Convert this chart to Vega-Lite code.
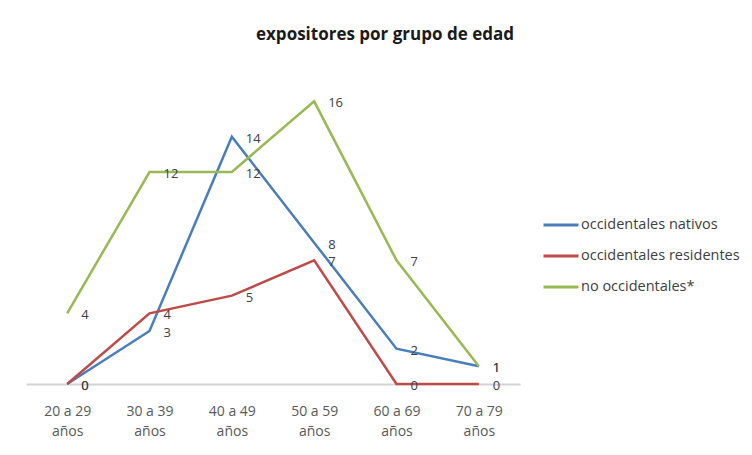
{
  "$schema": "https://vega.github.io/schema/vega-lite/v6.json",
  "width": 494,
  "height": 318,
  "autosize": {"type": "none"},
  "padding": {"left": 26, "top": 66, "right": 232, "bottom": 71},
  "background": "white",
  "title": {
    "text": "expositores por grupo de edad",
    "anchor": "middle",
    "frame": "group",
    "dx": 112,
    "offset": 22,
    "font": "Open Sans",
    "fontSize": 17,
    "fontWeight": "bold",
    "color": "#1a1a1a"
  },
  "config": {
    "view": {"stroke": null},
    "font": "Open Sans"
  },
  "data": {
    "values": [
      {"serie": "occidentales nativos", "edad": "20 a 29 años", "valor": 0},
      {"serie": "occidentales nativos", "edad": "30 a 39 años", "valor": 3},
      {"serie": "occidentales nativos", "edad": "40 a 49 años", "valor": 14},
      {"serie": "occidentales nativos", "edad": "50 a 59 años", "valor": 8},
      {"serie": "occidentales nativos", "edad": "60 a 69 años", "valor": 2},
      {"serie": "occidentales nativos", "edad": "70 a 79 años", "valor": 1},
      {"serie": "occidentales residentes", "edad": "20 a 29 años", "valor": 0},
      {"serie": "occidentales residentes", "edad": "30 a 39 años", "valor": 4},
      {"serie": "occidentales residentes", "edad": "40 a 49 años", "valor": 5},
      {"serie": "occidentales residentes", "edad": "50 a 59 años", "valor": 7},
      {"serie": "occidentales residentes", "edad": "60 a 69 años", "valor": 0},
      {"serie": "occidentales residentes", "edad": "70 a 79 años", "valor": 0},
      {"serie": "no occidentales*", "edad": "20 a 29 años", "valor": 4},
      {"serie": "no occidentales*", "edad": "30 a 39 años", "valor": 12},
      {"serie": "no occidentales*", "edad": "40 a 49 años", "valor": 12},
      {"serie": "no occidentales*", "edad": "50 a 59 años", "valor": 16},
      {"serie": "no occidentales*", "edad": "60 a 69 años", "valor": 7},
      {"serie": "no occidentales*", "edad": "70 a 79 años", "valor": 1}
    ]
  },
  "encoding": {
    "x": {
      "field": "edad",
      "type": "ordinal",
      "sort": null,
      "scale": {"type": "point", "padding": 0.5},
      "axis": {
        "title": null,
        "labelAngle": 0,
        "ticks": false,
        "labelPadding": 20,
        "labelExpr": "[substring(datum.label, 0, 7), substring(datum.label, 8)]",
        "labelFont": "Open Sans",
        "labelFontSize": 14,
        "labelColor": "#595959",
        "labelLineHeight": 20,
        "domainColor": "#d4d4d4",
        "domainWidth": 2,
        "grid": false
      }
    },
    "y": {
      "field": "valor",
      "type": "quantitative",
      "scale": {"domain": [0, 18], "nice": false},
      "axis": null
    }
  },
  "layer": [
    {
      "mark": {"type": "line", "strokeWidth": 2.5},
      "encoding": {
        "color": {
          "field": "serie",
          "type": "nominal",
          "scale": {
            "domain": ["occidentales nativos", "occidentales residentes", "no occidentales*"],
            "range": ["#4a7ebb", "#be4b48", "#98b954"]
          },
          "legend": {
            "title": null,
            "orient": "none",
            "legendX": 516,
            "legendY": 140,
            "symbolType": "stroke",
            "symbolSize": 1225,
            "symbolStrokeWidth": 3,
            "labelFont": "Open Sans",
            "labelFontSize": 14.5,
            "labelColor": "#404040",
            "labelOffset": 1,
            "rowPadding": 5
          }
        }
      }
    },
    {
      "mark": {"type": "text", "align": "left", "baseline": "middle", "dx": 14, "dy": 2, "fontSize": 13, "color": "#404040", "font": "Open Sans"},
      "encoding": {
        "text": {"field": "valor", "type": "quantitative"},
        "detail": {"field": "serie", "type": "nominal"}
      }
    }
  ]
}
